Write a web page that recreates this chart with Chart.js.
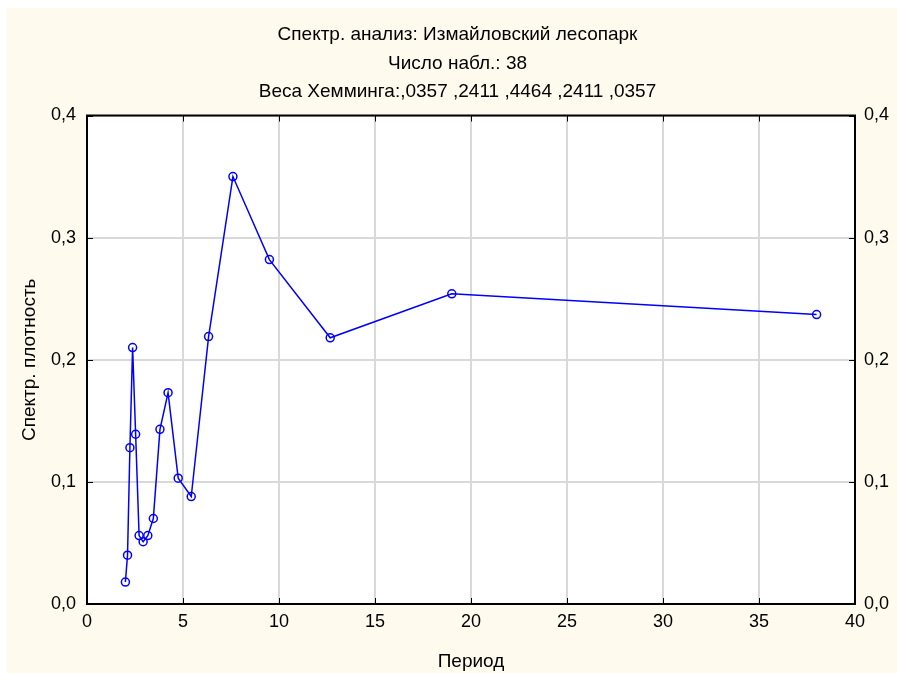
<!DOCTYPE html>
<html>
<head>
<meta charset="utf-8">
<script src="https://cdn.jsdelivr.net/npm/chart.js@4"></script>
<style>
    body { margin: 0; background: #ffffff; }
    #wrap { width: 897px; height: 673px; position: relative; }
</style>
</head>
<body>
<div id="wrap"><canvas id="spectrchart"></canvas></div>
<script>
"use strict";

/* periods (38 / k) and spectral density */
var periods = [2.0, 2.111, 2.235, 2.375, 2.533, 2.714, 2.923, 3.167, 3.455, 3.8, 4.222, 4.75, 5.429, 6.333, 7.6, 9.5, 12.667, 19.0, 38.0];
var density = [0.018, 0.040, 0.128, 0.210, 0.139, 0.056, 0.051, 0.056, 0.070, 0.143, 0.173, 0.103, 0.088, 0.219, 0.350, 0.282, 0.218, 0.254, 0.237];
var xTicks = [0, 5, 10, 15, 20, 25, 30, 35, 40];
var yTicks = [0, 0.1, 0.2, 0.3, 0.4];
var titleLines = ['Спектр. анализ: Измайловский лесопарк', 'Число набл.: 38', 'Веса Хемминга:,0357 ,2411 ,4464 ,2411 ,0357'];

var points = periods.map(function (p, i) { return { x: p, y: density[i] }; });

function fmtComma(v) {
    return v.toFixed(1).replace('.', ',');
}

/* cream panel, white plot area, frame and inward tick marks */
var panelPlugin = {
    id: 'panel',
    beforeDraw: function (chart) {
        var ctx = chart.ctx, a = chart.chartArea;
        ctx.save();
        ctx.fillStyle = '#ffffff';
        ctx.fillRect(0, 0, chart.width, chart.height);
        ctx.fillStyle = '#fffaee';
        ctx.fillRect(7, 8, chart.width - 7, chart.height - 8);
        ctx.fillStyle = '#ffffff';
        ctx.fillRect(a.left, a.top, a.right - a.left, a.bottom - a.top);
        ctx.restore();
    },
    afterDatasetsDraw: function (chart) {
        var ctx = chart.ctx, a = chart.chartArea;
        var xs = chart.scales.x, ys = chart.scales.y;
        ctx.save();
        ctx.strokeStyle = '#000000';
        ctx.lineWidth = 1;
        ctx.beginPath();
        xTicks.forEach(function (t) {
            var px = Math.round(xs.getPixelForValue(t)) + 0.5;
            ctx.moveTo(px, a.top); ctx.lineTo(px, a.top + 6);
            ctx.moveTo(px, a.bottom); ctx.lineTo(px, a.bottom - 6);
        });
        yTicks.forEach(function (t) {
            var py = Math.round(ys.getPixelForValue(t)) + 0.5;
            ctx.moveTo(a.left, py); ctx.lineTo(a.left + 6, py);
            ctx.moveTo(a.right, py); ctx.lineTo(a.right - 6, py);
        });
        ctx.stroke();
        ctx.lineWidth = 2;
        ctx.strokeRect(a.left, a.top, a.right - a.left, a.bottom - a.top);
        ctx.restore();
    }
};

var fontTick = { family: 'Liberation Sans', size: 18 };
var fontLabel = { family: 'Liberation Sans', size: 19 };

var config = {
    type: 'line',
    data: {
        datasets: [{
            label: 'Спектр. плотность',
            data: points,
            borderColor: '#0000ff',
            backgroundColor: 'rgba(0, 0, 0, 0)',
            borderWidth: 1.5,
            pointRadius: 4,
            pointBorderWidth: 1.5,
            pointBorderColor: '#0000ff',
            pointBackgroundColor: 'rgba(0, 0, 0, 0)',
            tension: 0,
            yAxisID: 'y'
        }]
    },
    options: {
        responsive: true,
        maintainAspectRatio: false,
        animation: false,
        layout: { padding: { top: 9, left: 18, right: 0, bottom: 0 } },
        plugins: {
            legend: { display: false },
            tooltip: { enabled: false },
            title: {
                display: true,
                text: titleLines,
                color: '#000000',
                font: { family: 'Liberation Sans', size: 19, weight: 'normal', lineHeight: 1.5 },
                padding: { top: 12, bottom: 9 }
            }
        },
        scales: {
            x: {
                type: 'linear',
                min: 0,
                max: 40,
                afterBuildTicks: function (s) { s.ticks = xTicks.map(function (v) { return { value: v }; }); },
                afterFit: function (s) { s.height = 69; },
                grid: { color: '#d9d9d9', lineWidth: 2, drawTicks: false },
                border: { display: false },
                ticks: { color: '#000000', font: fontTick, padding: 7, maxRotation: 0 },
                title: {
                    display: true,
                    text: 'Период',
                    color: '#000000',
                    font: fontLabel,
                    padding: { top: 0, bottom: 0 }
                }
            },
            y: {
                type: 'linear',
                position: 'left',
                min: 0,
                max: 0.4,
                afterBuildTicks: function (s) { s.ticks = yTicks.map(function (v) { return { value: v }; }); },
                afterFit: function (s) { s.width = 69; },
                grid: { color: '#d9d9d9', lineWidth: 2, drawTicks: false },
                border: { display: false },
                ticks: { color: '#000000', font: fontTick, padding: 11, callback: function (v) { return fmtComma(v); } },
                title: {
                    display: true,
                    text: 'Спектр. плотность',
                    color: '#000000',
                    font: fontLabel,
                    padding: { top: 0, bottom: 0 }
                }
            },
            y2: {
                type: 'linear',
                position: 'right',
                min: 0,
                max: 0.4,
                afterBuildTicks: function (s) { s.ticks = yTicks.map(function (v) { return { value: v }; }); },
                afterFit: function (s) { s.width = 42; },
                grid: { display: false, drawTicks: false },
                border: { display: false },
                ticks: { color: '#000000', font: fontTick, padding: 9, callback: function (v) { return fmtComma(v); } }
            }
        }
    },
    plugins: [panelPlugin]
};

var spectrChart = new Chart(document.getElementById('spectrchart').getContext('2d'), config);
</script>
</body>
</html>
